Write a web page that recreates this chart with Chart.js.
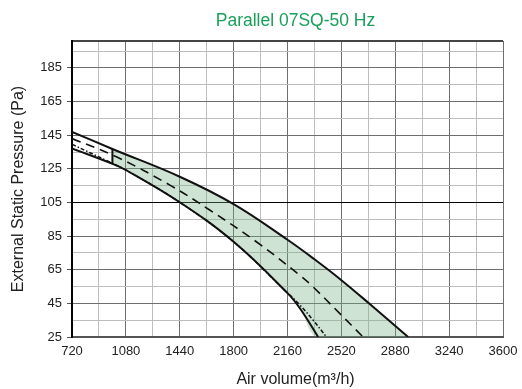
<!DOCTYPE html>
<html>
<head>
<meta charset="utf-8">
<script src="https://cdn.jsdelivr.net/npm/chart.js@4.4.1/dist/chart.umd.min.js"></script>
<style>
  html, body { margin: 0; padding: 0; background: #fff; }
  #wrap { width: 522px; height: 389px; }
</style>
</head>
<body>
<div id="wrap"><canvas id="myChart"></canvas></div>
<script>
// fan curve data
const upperX = [720, 990, 1440, 1800, 2160, 2340, 2520, 2710, 2966];
const upperY = [147, 136.8, 120.3, 104, 82.8, 71.2, 58.8, 44.6, 25];

const midX = [720, 1020, 1380, 1640, 1954, 2243, 2332, 2510, 2665];
const midY = [143, 132, 115, 100.5, 81.5, 61.7, 54.7, 38.9, 25];

const lowX = [720, 990, 1080, 1440, 1800, 2160, 2245, 2365];
const lowY = [137.1, 128, 124.3, 105.1, 81.6, 51.1, 41.8, 25];

const dotX = [720, 960, 1080, 1440, 1800, 2110, 2243, 2332, 2421];
const dotY = [139.6, 129.5, 124.3, 105.1, 81.6, 55.5, 44, 34.9, 25];

const splitX = 990;
const xTicks = [720, 1080, 1440, 1800, 2160, 2520, 2880, 3240, 3600];
const yTicks = [25, 45, 65, 85, 105, 125, 145, 165, 185];
const xMin = 720, xMax = 3600, xStep = 180;
const yMin = 25, yMax = 201, yStep = 10;

let pts = (xs, ys) => xs.map((x, i) => ({ x: x, y: ys[i] }));

let upper = pts(upperX, upperY);
let lower = pts(lowX, lowY);
let bandTop = upper.filter(p => p.x >= splitX);
let bandBottom = lower.filter(p => p.x >= splitX);
bandBottom.push({ x: upperX[upperX.length - 1], y: yMin });
let divider = [lower.find(p => p.x === splitX), upper.find(p => p.x === splitX)];

let line = (data, dash, width) => ({
    data: data,
    borderColor: "#111",
    borderWidth: width,
    borderDash: dash,
    pointRadius: 0,
    fill: false,
    tension: 0.4,
});

let titles = {
    id: "titles",
    afterDraw(chart) {
        let c = chart.ctx;
        let mid = (chart.chartArea.left + chart.chartArea.right) / 2 + 8;
        c.save();
        c.textAlign = "center";
        c.textBaseline = "middle";
        c.font = "17.5px 'Liberation Sans', Arial, sans-serif";
        c.fillStyle = "#1a9f5b";
        c.fillText("Parallel 07SQ-50 Hz", mid, 21);
        c.font = "16px 'Liberation Sans', Arial, sans-serif";
        c.fillStyle = "#222";
        c.fillText("Air volume(m\u00b3/h)", mid, 380);
        c.restore();
    }
};

let isMajorX = v => (v - xMin) % 360 === 0;
let isMajorY = v => (v - yMin) % 20 === 0;

new Chart(document.getElementById("myChart"), {
    type: "line",
    data: {
        datasets: [
            line(divider, [], 2),
            line(lower, [], 2),
            line(upper, [], 2),
            line(pts(midX, midY), [9, 6], 1.6),
            line(pts(dotX, dotY), [4, 2, 1.5, 2], 1.5),
            Object.assign(line(bandTop, [], 0), {
                fill: "+1",
                backgroundColor: "rgba(118,175,132,0.35)",
                borderColor: "rgba(0,0,0,0)",
            }),
            Object.assign(line(bandBottom, [], 0), { borderColor: "rgba(0,0,0,0)" }),
        ]
    },
    options: {
        responsive: true,
        maintainAspectRatio: false,
        animation: false,
        layout: { padding: { left: 0, right: 19, top: 41, bottom: 0 } },
        plugins: {
            legend: { display: false },
            tooltip: { enabled: false },
        },
        scales: {
            x: {
                type: "linear",
                min: xMin,
                max: xMax,
                afterBuildTicks: s => {
                    let t = [];
                    for (let v = xMin; v <= xMax; v += xStep) t.push({ value: v });
                    s.ticks = t;
                },
                afterFit: s => {
                    s.height = 52;
                    s.paddingLeft = 0;
                    s.paddingRight = 0;
                },
                ticks: {
                    autoSkip: false,
                    maxRotation: 0,
                    padding: 7,
                    color: "#222",
                    font: { family: "'Liberation Sans', Arial", size: 13 },
                    callback: v => xTicks.includes(v) ? String(v) : "",
                },
                grid: {
                    drawTicks: false,
                    color: c => isMajorX(c.tick.value) ? "#6e6e6e" : "#bdbdbd",
                    lineWidth: 1,
                },
                border: { color: "#555", width: 2 },
            },
            y: {
                type: "linear",
                min: yMin,
                max: yMax,
                afterBuildTicks: s => {
                    let t = [];
                    for (let v = yMin; v < yMax; v += yStep) t.push({ value: v });
                    t.push({ value: yMax });
                    s.ticks = t;
                },
                afterFit: s => { s.width = 72; },
                ticks: {
                    autoSkip: false,
                    padding: 5,
                    color: "#222",
                    font: { family: "'Liberation Sans', Arial", size: 13 },
                    callback: v => yTicks.includes(v) ? String(v) : "",
                },
                grid: {
                    tickLength: 5,
                    color: c => c.tick.value === 105 ? "#000" : (c.tick.value === yMax ? "#444" : (isMajorY(c.tick.value) ? "#6e6e6e" : "#bdbdbd")),
                    tickColor: c => isMajorY(c.tick.value) ? "#555" : "rgba(0,0,0,0)",
                    lineWidth: c => c.tick.value === yMax ? 2 : 1,
                },
                border: { color: "#000", width: 2 },
                title: {
                    display: true,
                    text: "External Static Pressure (Pa)",
                    color: "#222",
                    font: { family: "'Liberation Sans', Arial", size: 16 },
                    padding: { top: 9, bottom: 0 },
                },
            },
        },
    },
    plugins: [titles],
});
</script>
</body>
</html>
